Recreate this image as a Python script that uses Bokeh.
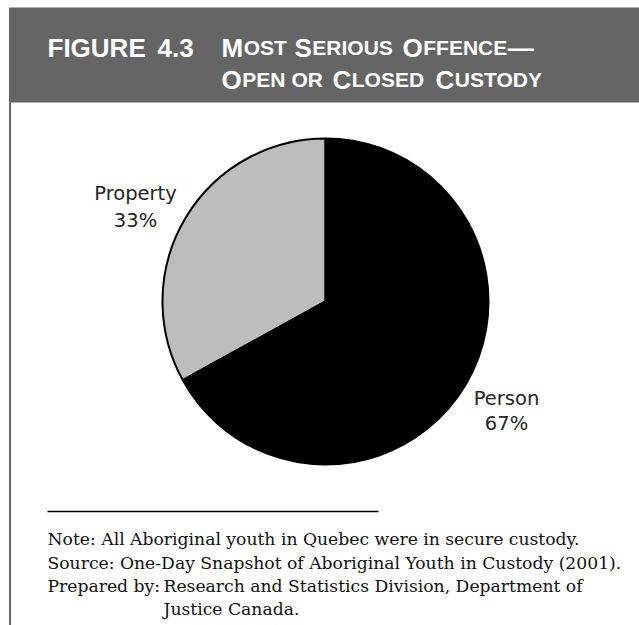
import math

from bokeh.core.properties import value
from bokeh.embed import file_html
from bokeh.models import ColumnDataSource, Range1d
from bokeh.plotting import figure
from bokeh.resources import INLINE

# ---- data -------------------------------------------------------------
categories = ["Property", "Person"]
shares = [33, 67]                      # percent of youth in custody
slice_colors = ["#bdbdbd", "#000000"]

title_number = ["FIGURE", "4.3"]
title_line1 = ["Most", "Serious", "Offence\u2014"]
title_line2 = ["Open", "or", "Closed", "Custody"]

notes = [
    "Note: All Aboriginal youth in Quebec were in secure custody.",
    "Source: One-Day Snapshot of Aboriginal Youth in Custody (2001).",
]
prepared_by = ("Prepared by:", "Research and Statistics Division, Department of", "Justice Canada.")

# ---- canvas (pixel-like coordinates, y measured from the top) ------------
W, H = 639, 625
p = figure(width=W, height=H, x_range=Range1d(0, W), y_range=Range1d(0, H),
           output_backend="svg", toolbar_location=None, min_border=0)
p.axis.visible = False
p.grid.visible = False
p.outline_line_color = None
p.background_fill_color = "white"
p.border_fill_color = "white"


def Y(y_top):
    return H - y_top


# header band and left rule
p.quad(left=8.5, right=W, top=Y(7), bottom=Y(102), fill_color="#656565", line_color=None)
p.segment(x0=[9.5], y0=[Y(102)], x1=[9.5], y1=[0], line_color="#3a3a3a", line_width=1.5)

# ---- title (small caps built from two sizes) ------------------------------
BIG, SMALL = 26, 21
title_font = value("Liberation Sans")
# Liberation Sans Bold advance widths (per 1000 em) for the letters used
ADV = {"M": 833, "S": 667, "O": 778, "C": 722, "F": 611, "E": 667, "N": 722}


def put(x, base, s, size):
    p.text(x=[x], y=[Y(base)], text=[s], text_font=title_font, text_font_style="bold",
           text_font_size=f"{size}px", text_color="white", text_baseline="alphabetic")


put(47, 47, title_number[0], BIG)
put(157, 47, title_number[1], BIG)


def small_caps_line(words, starts, baseline, cap_initial):
    for w, x0, cap in zip(words, starts, cap_initial):
        dash = w.endswith("\u2014")
        w = w.rstrip("\u2014")
        x = x0
        if cap:
            put(x, baseline, w[0].upper(), BIG)
            x += ADV[w[0].upper()] * BIG / 1000.0 + 0.5
            rest = w[1:].upper()
        else:
            rest = w.upper()
        put(x, baseline, rest, SMALL)
        if dash:
            x += sum(ADV[c] for c in rest) * SMALL / 1000.0 + 0.5
            put(x, baseline, "\u2014", BIG)


small_caps_line(title_line1, [221, 294, 402], 47, [True, True, True])
small_caps_line(title_line2, [221, 291, 332, 435], 79, [True, False, True, True])

# ---- pie ----------------------------------------------------------------
cx, cy, r = 325, Y(301), 163
start, ends, starts = 90.0, [], []
for s in shares:
    starts.append(math.radians(start))
    start += s * 360.0 / sum(shares)
    ends.append(math.radians(start))

src = ColumnDataSource(dict(cat=categories, share=shares, color=slice_colors,
                            start=starts, end=ends))
p.wedge(x=cx, y=cy, radius=r, start_angle="start", end_angle="end", direction="anticlock",
        fill_color="color", line_color="black", line_width=2, source=src)

# slice labels
label_font = value("DejaVu Sans")
label_pos = [(135, 193, 220), (506, 398, 423)]
for cat, s, (lx, b1, b2) in zip(categories, shares, label_pos):
    p.text(x=[lx, lx], y=[Y(b1), Y(b2)], text=[cat, f"{s}%"], text_font=label_font,
           text_font_size="19.5px", text_color="#262626", text_align="center",
           text_baseline="alphabetic")

# ---- notes ----------------------------------------------------------------
p.segment(x0=[47], y0=[Y(511)], x1=[378], y1=[Y(511)], line_color="black", line_width=1.5)
note_font = value("DejaVu Serif")
NOTE_SIZE = "17.2px"
p.text(x=[47, 47], y=[Y(538), Y(562)], text=notes, text_font=note_font,
       text_font_size=NOTE_SIZE, text_color="#111111", text_baseline="alphabetic")
p.text(x=[47, 163, 163], y=[Y(585), Y(585), Y(608)], text=list(prepared_by),
       text_font=note_font, text_font_size=NOTE_SIZE, text_color="#111111",
       text_baseline="alphabetic")

open("out.html", "w").write(file_html(p, INLINE))
